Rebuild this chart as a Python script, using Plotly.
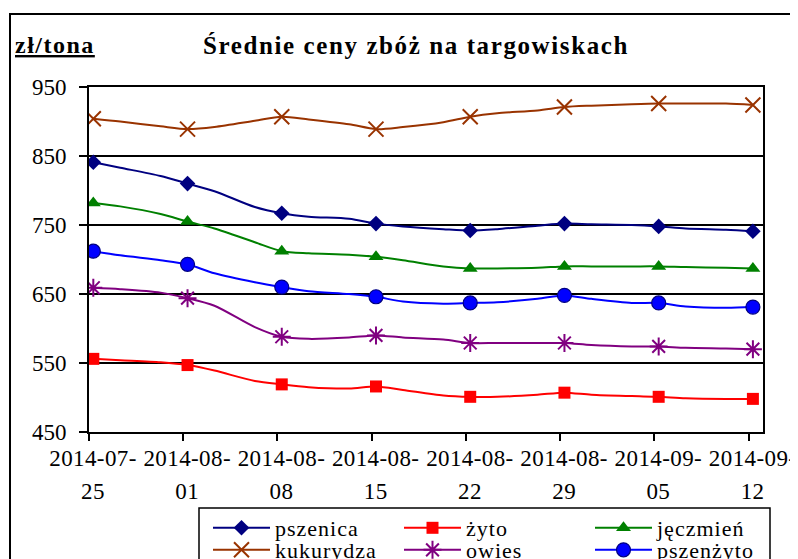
import pandas as pd
import plotly.graph_objects as go

# ---------------- data ----------------
dates = ['2014-07-25', '2014-07-27', '2014-07-30', '2014-08-01', '2014-08-03', '2014-08-06',
         '2014-08-08', '2014-08-10', '2014-08-13', '2014-08-15', '2014-08-17', '2014-08-20',
         '2014-08-22', '2014-08-24', '2014-08-27', '2014-08-29', '2014-08-31', '2014-09-03',
         '2014-09-05', '2014-09-07', '2014-09-10', '2014-09-12']
marked_dates = ['2014-07-25', '2014-08-01', '2014-08-08', '2014-08-15',
                '2014-08-22', '2014-08-29', '2014-09-05', '2014-09-12']
tick_line1 = ['2014-07-', '2014-08-', '2014-08-', '2014-08-', '2014-08-', '2014-08-', '2014-09-', '2014-09-']
tick_line2 = ['25', '01', '08', '15', '22', '29', '05', '12']

pszenica = [841, 833, 821, 810, 799, 776, 767, 762, 759, 752, 748, 744,
            742, 744, 749, 752, 751, 750, 748, 745, 743, 741]
zyto = [556, 554, 551, 547, 539, 524, 519, 515, 513, 516, 511, 503,
        501, 501, 504, 507, 504, 502, 501, 499, 498, 498]
jeczmien = [782, 777, 766, 755, 745, 725, 712, 709, 707, 704, 699, 690,
            687, 687, 688, 690, 690, 690, 690, 689, 688, 687]
kukurydza = [904, 900, 893, 889, 892, 901, 907, 903, 896, 889, 892, 899,
             907, 912, 916, 921, 923, 925, 926, 926, 926, 924]
owies = [659, 657, 652, 644, 633, 602, 588, 585, 587, 590, 587, 584,
         579, 579, 579, 579, 576, 574, 574, 572, 571, 570]
pszenzyto = [712, 706, 699, 693, 680, 667, 660, 654, 650, 646, 639, 636,
             637, 638, 643, 648, 643, 637, 637, 632, 630, 631]

series_names = ['pszenica', 'żyto', 'jęczmień', 'kukurydza', 'owies', 'pszenżyto']
series_values = [pszenica, zyto, jeczmien, kukurydza, owies, pszenzyto]

# ---------------- styles ----------------
FONT = 'Liberation Serif, Times New Roman, DejaVu Serif, serif'
styles = {
    'pszenica':  dict(color='#000080', symbol='diamond', size=12, fill='#000080', lw=0, legend='legend'),
    'żyto':      dict(color='#FF0000', symbol='square', size=12, fill='#FF0000', lw=0, legend='legend'),
    'jęczmień':  dict(color='#008000', symbol='triangle-up', size=13, fill='#008000', lw=0, legend='legend'),
    'kukurydza': dict(color='#993300', symbol='x-thin-open', size=15, fill='#993300', lw=2, legend='legend2'),
    'owies':     dict(color='#800080', symbol='asterisk-open', size=15, fill='#800080', lw=2, legend='legend2'),
    'pszenżyto': dict(color='#0000FF', symbol='circle', size=14, fill='#0000FF', lw=1.2, legend='legend2'),
}
start = pd.Timestamp(dates[0])
xd = [(pd.Timestamp(d) - start).days for d in dates]
xm = [(pd.Timestamp(d) - start).days for d in marked_dates]
TICK_SHIFT = 0.32  # tick marks sit slightly left of the data points
tickpos = [v - TICK_SHIFT for v in xm]
XRANGE = [-TICK_SHIFT, 49.75]

# page has an 8px body margin: reference pixel -> paper coords of the plot area
PL, PT, PW, PH = 89, 87, 674, 345
def px(x):
    return (x - PL) / PW
def py(y):
    return (PT + PH - y) / PH
def spaced(t, s):
    return f'<span style="letter-spacing:{s}px">{t}</span>'

fig = go.Figure()
for name, vals in zip(series_names, series_values):
    st = styles[name]
    mvals = [v for d, v in zip(dates, vals) if d in marked_dates]
    mline = dict(width=st['lw'], color='#000080' if name == 'pszenżyto' else st['color'])
    fig.add_trace(go.Scatter(x=xd, y=vals, mode='lines',
                             line=dict(color=st['color'], width=2, shape='spline', smoothing=0.8),
                             showlegend=False, hoverinfo='skip'))
    fig.add_trace(go.Scatter(x=xm, y=mvals, mode='markers', showlegend=False, name=name,
                             marker=dict(symbol=st['symbol'], size=st['size'], color=st['fill'], line=mline)))
    fig.add_trace(go.Scatter(x=[None], y=[None], mode='lines+markers', name=spaced(name, 1.0),
                             legend=st['legend'],
                             line=dict(color=st['color'], width=2),
                             marker=dict(symbol=st['symbol'], size=st['size'], color=st['fill'], line=mline)))

# helper trace to carry the second tick-label line
fig.add_trace(go.Scatter(x=[None], y=[None], xaxis='x2', showlegend=False, hoverinfo='skip'))

axis_font = dict(family=FONT, size=23, color='black')
leg_common = dict(orientation='h', x=px(208), xanchor='left', yanchor='middle',
                  borderwidth=0, bgcolor='rgba(0,0,0,0)',
                  font=dict(family=FONT, size=22, color='black'),
                  entrywidth=119, entrywidthmode='pixels', itemwidth=57, tracegroupgap=0)
fig.update_layout(
    width=798, height=559,
    template='none',
    paper_bgcolor='white', plot_bgcolor='white',
    margin=dict(l=PL - 8, r=798 - (PL - 8) - PW, t=PT - 8, b=559 - (PT - 8) - PH, autoexpand=False),
    font=dict(family=FONT, color='black'),
    xaxis=dict(range=XRANGE, tickmode='array', tickvals=tickpos,
               ticktext=[spaced(t, 0.4) for t in tick_line1],
               ticks='outside', ticklen=7, tickwidth=2, tickcolor='black',
               showline=True, linecolor='black', linewidth=2, mirror=True,
               showgrid=False, zeroline=False, tickfont=axis_font,
               ticklabelshift=4, ticklabelstandoff=-3),
    xaxis2=dict(range=XRANGE, overlaying='x', anchor='y', side='bottom', tickmode='array',
                tickvals=tickpos, ticktext=[spaced(t, 0.4) for t in tick_line2],
                ticks='', showline=False, showgrid=False,
                zeroline=False, tickfont=axis_font, ticklabelshift=4, ticklabelstandoff=43),
    yaxis=dict(range=[450, 950], tickmode='linear', tick0=450, dtick=100,
               ticks='outside', ticklen=8, tickwidth=2, tickcolor='black',
               showline=True, linecolor='black', linewidth=2, mirror=True,
               showgrid=True, gridcolor='black', gridwidth=2, zeroline=False,
               tickfont=axis_font, ticklabelstandoff=8),
    legend=dict(y=py(528), **leg_common),
    legend2=dict(y=py(550), **leg_common),
    showlegend=True,
)

fig.add_annotation(xref='paper', yref='paper', x=px(416), y=py(45),
                   xanchor='center', yanchor='middle', showarrow=False,
                   text=spaced('<b>Średnie ceny zbóż na targowiskach</b>', 1.6),
                   font=dict(family=FONT, size=25, color='black'))
fig.add_annotation(xref='paper', yref='paper', x=px(13), y=py(45),
                   xanchor='left', yanchor='middle', showarrow=False,
                   text=spaced('<b><u>zł/tona</u></b>', 1.5),
                   font=dict(family=FONT, size=24, color='black'))

# outer chart frame and legend box
fig.add_shape(type='rect', xref='paper', yref='paper', x0=px(10), x1=px(820),
              y0=py(600), y1=py(14), line=dict(color='black', width=2), layer='below')
fig.add_shape(type='rect', xref='paper', yref='paper', x0=px(199), x1=px(770),
              y0=py(600), y1=py(508), line=dict(color='black', width=1.5), layer='below')

fig.write_html('out.html')
